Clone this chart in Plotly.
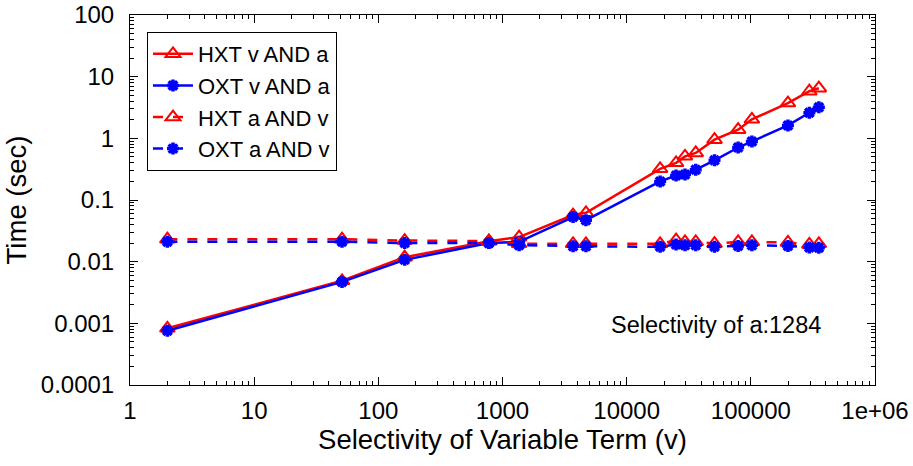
import plotly.graph_objects as go

selectivity_v = [2, 51, 163, 777, 1360, 3700, 4700, 18600, 25000, 29500, 36000,
                 51000, 79000, 102000, 199000, 296000, 353000]
hxt_v_and_a = [0.00083, 0.0049, 0.0118, 0.0215, 0.025, 0.057, 0.062, 0.32, 0.40,
               0.51, 0.58, 0.95, 1.38, 2.03, 3.73, 5.8, 6.5]
oxt_v_and_a = [0.00076, 0.0047, 0.0107, 0.0200, 0.021, 0.053, 0.047, 0.20, 0.25,
               0.26, 0.31, 0.44, 0.71, 0.89, 1.62, 2.6, 3.2]
hxt_a_and_v = [0.0231, 0.0231, 0.022, 0.0216, 0.0195, 0.0195, 0.0195, 0.0195, 0.0223,
               0.021, 0.021, 0.0196, 0.021, 0.021, 0.0205, 0.019, 0.0195]
oxt_a_and_v = [0.0211, 0.0211, 0.020, 0.020, 0.0185, 0.0178, 0.0178, 0.0174, 0.0189,
               0.0185, 0.0185, 0.0174, 0.018, 0.0185, 0.018, 0.017, 0.0168]

x_tickvals = [1, 10, 100, 1000, 10000, 100000, 1000000]
x_ticktext = ["1", "10", "100", "1000", "10000", "100000", "1e+06"]
y_tickvals = [0.0001, 0.001, 0.01, 0.1, 1, 10, 100]
y_ticktext = ["0.0001", "0.001", "0.01", "0.1", "1", "10", "100"]
minor_mult = [2, 3, 4, 5, 6, 7, 8, 9]

RED = "#ff0000"
BLUE = "#0000ff"
FONT = "Liberation Sans, Arial, sans-serif"

x_minor = [d * m for d in x_tickvals[:-1] for m in minor_mult]
y_minor = [d * m for d in y_tickvals[:-1] for m in minor_mult]

tri = dict(symbol="triangle-up-open", size=13, color=RED, line=dict(color=RED, width=2))
star = dict(symbol="asterisk-open", size=10, color=BLUE, line=dict(color=BLUE, width=3.5))

fig = go.Figure()
fig.add_trace(go.Scatter(x=selectivity_v, y=hxt_v_and_a, name="HXT v AND a",
                         mode="lines+markers", line=dict(color=RED, width=2.5), marker=tri))
fig.add_trace(go.Scatter(x=selectivity_v, y=oxt_v_and_a, name="OXT v AND a",
                         mode="lines+markers", line=dict(color=BLUE, width=2.5), marker=star))
fig.add_trace(go.Scatter(x=selectivity_v, y=hxt_a_and_v, name="HXT a AND v",
                         mode="lines+markers",
                         line=dict(color=RED, width=2.5, dash="10px,10px"), marker=tri))
fig.add_trace(go.Scatter(x=selectivity_v, y=oxt_a_and_v, name="OXT a AND v",
                         mode="lines+markers",
                         line=dict(color=BLUE, width=2.5, dash="10px,10px"), marker=star))

axis_common = dict(
    showgrid=False, zeroline=False, showline=True, linecolor="black", linewidth=1,
    mirror="allticks", ticks="inside", ticklen=8, tickcolor="black", tickwidth=1,
    tickfont=dict(family=FONT, size=24, color="black"), automargin=False,
)

fig.update_xaxes(type="log", range=[0, 6], tickmode="array",
                 tickvals=x_tickvals, ticktext=x_ticktext, ticklabelstandoff=4,
                 minor=dict(ticks="inside", ticklen=4, tickcolor="black", tickwidth=1,
                            showgrid=False, tickmode="array", tickvals=x_minor),
                 title=dict(text="Selectivity of Variable Term (v)",
                            font=dict(family=FONT, size=27.5, color="black"), standoff=2),
                 **axis_common)
fig.update_yaxes(type="log", range=[-4, 2], tickmode="array",
                 tickvals=y_tickvals, ticktext=y_ticktext, ticklabelstandoff=10,
                 minor=dict(ticks="inside", ticklen=4, tickcolor="black", tickwidth=1,
                            showgrid=False, tickmode="array", tickvals=y_minor),
                 title=dict(text="Time (sec)",
                            font=dict(family=FONT, size=27.5, color="black"), standoff=6),
                 **axis_common)

fig.add_annotation(x=0.787, y=0.162, xref="paper", yref="paper",
                   xanchor="center", yanchor="middle",
                   text="Selectivity of a:1284", showarrow=False,
                   font=dict(family=FONT, size=23.5, color="black"))

fig.update_layout(
    width=913, height=466,
    margin=dict(l=130, r=38, t=15, b=81),
    paper_bgcolor="white", plot_bgcolor="white",
    font=dict(family=FONT, color="black"),
    showlegend=True,
    legend=dict(x=0.0228, y=0.954, xanchor="left", yanchor="top",
                bgcolor="white", bordercolor="black", borderwidth=1,
                font=dict(family=FONT, size=22, color="black"),
                tracegroupgap=0, itemwidth=40),
)

fig.write_html("out.html")
